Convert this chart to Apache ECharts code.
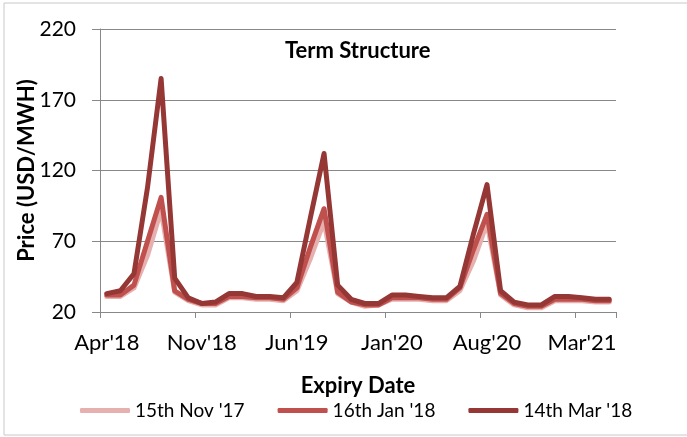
<!DOCTYPE html>
<html>
<head>
<meta charset="utf-8">
<script src="https://cdn.jsdelivr.net/npm/echarts@6/dist/echarts.min.js"></script>
<style>
  html, body { margin: 0; padding: 0; background: #fff; }
  #term-chart { width: 687px; height: 437px; }
</style>
</head>
<body>
<div id="term-chart"></div>
<script>
var months = ["Apr'18", "May'18", "Jun'18", "Jul'18", "Aug'18", "Sep'18", "Oct'18", "Nov'18", "Dec'18",
  "Jan'19", "Feb'19", "Mar'19", "Apr'19", "May'19", "Jun'19", "Jul'19", "Aug'19", "Sep'19", "Oct'19",
  "Nov'19", "Dec'19", "Jan'20", "Feb'20", "Mar'20", "Apr'20", "May'20", "Jun'20", "Jul'20", "Aug'20",
  "Sep'20", "Oct'20", "Nov'20", "Dec'20", "Jan'21", "Feb'21", "Mar'21", "Apr'21", "May'21"];

var nov17 = [31, 31, 37, 60, 92, 34, 28, 25, 25, 30, 30, 29, 29, 28, 35, 58, 84, 33, 27, 24,
  25, 29, 29, 29, 28, 28, 35, 56, 83, 32, 25, 23, 23, 28, 28, 28, 27, 27];
var jan18 = [32, 32, 39, 70, 101, 35, 29, 26, 26, 31, 31, 30, 30, 29, 37, 66, 93, 34, 27, 25,
  25, 30, 30, 30, 29, 29, 37, 64, 89, 33, 26, 24, 24, 29, 29, 29, 28, 28];
var mar18 = [33, 35, 47, 108, 185, 44, 30, 26, 27, 33, 33, 31, 31, 30, 41, 87, 132, 39, 29, 26,
  26, 32, 32, 31, 30, 30, 38, 75, 110, 35, 27, 25, 25, 31, 31, 30, 29, 29];

var yMin = 20, yMax = 220, yStep = 50;

var myChart = echarts.init(document.getElementById('term-chart'));
var font = 'Lato, "Liberation Sans", sans-serif';

function lineSeries(name, data, color){
  return {
    name: name,
    type: 'line',
    data: data,
    symbol: 'none',
    smooth: false,
    itemStyle: {color: color},
    lineStyle: {width: 5, color: color, join: 'round', cap: 'round'}
  };
}

var option = {
  animation: false,
  textStyle: {fontFamily: font, color: '#000'},
  title: {
    text: 'Term Structure',
    left: 280,
    top: 35,
    textStyle: {fontFamily: font, fontSize: 22, fontWeight: 'bold', color: '#000'}
  },
  graphic: [{
    type: 'rect',
    shape: {x: 4, y: 3, width: 700, height: 432},
    style: {fill: 'none', stroke: '#c8c8c8', lineWidth: 1},
    silent: true
  }],
  legend: {
    bottom: 12,
    left: 75,
    itemWidth: 50,
    itemHeight: 5,
    itemGap: 33,
    icon: 'roundRect',
    textStyle: {fontFamily: font, fontSize: 19, color: '#000'},
    data: ['15th Nov \'17', '16th Jan \'18', '14th Mar \'18']
  },
  grid: {left: 100, right: 71, top: 29, bottom: 125},
  xAxis: {
    type: 'category',
    data: months,
    boundaryGap: true,
    name: 'Expiry Date',
    nameLocation: 'middle',
    nameGap: 63,
    nameMoveOverlap: false,
    nameTextStyle: {fontFamily: font, fontSize: 22, fontWeight: 'bold', color: '#000'},
    axisLine: {lineStyle: {color: '#888', width: 1}},
    axisTick: {show: true, interval: 6, length: 6, lineStyle: {color: '#888'}},
    axisLabel: {interval: 6, fontSize: 22, color: '#000', margin: 20, fontFamily: font},
    splitLine: {show: false}
  },
  yAxis: {
    type: 'value',
    min: yMin,
    max: yMax,
    interval: yStep,
    name: 'Price (USD/MWH)',
    nameLocation: 'middle',
    nameGap: 62,
    nameMoveOverlap: false,
    nameTextStyle: {fontFamily: font, fontSize: 22, fontWeight: 'bold', color: '#000'},
    axisLine: {show: true, lineStyle: {color: '#888', width: 1}},
    axisTick: {show: true, length: 8, lineStyle: {color: '#888'}},
    axisLabel: {fontSize: 21, color: '#000', margin: 24, fontFamily: font},
    splitLine: {lineStyle: {color: '#888', width: 1}}
  },
  series: [
    lineSeries('15th Nov \'17', nov17, '#E6B0AF'),
    lineSeries('16th Jan \'18', jan18, '#C0504D'),
    lineSeries('14th Mar \'18', mar18, '#953735')
  ]
};
myChart.setOption(option);
window.addEventListener('resize', () => { myChart.resize(); });
</script>
</body>
</html>
